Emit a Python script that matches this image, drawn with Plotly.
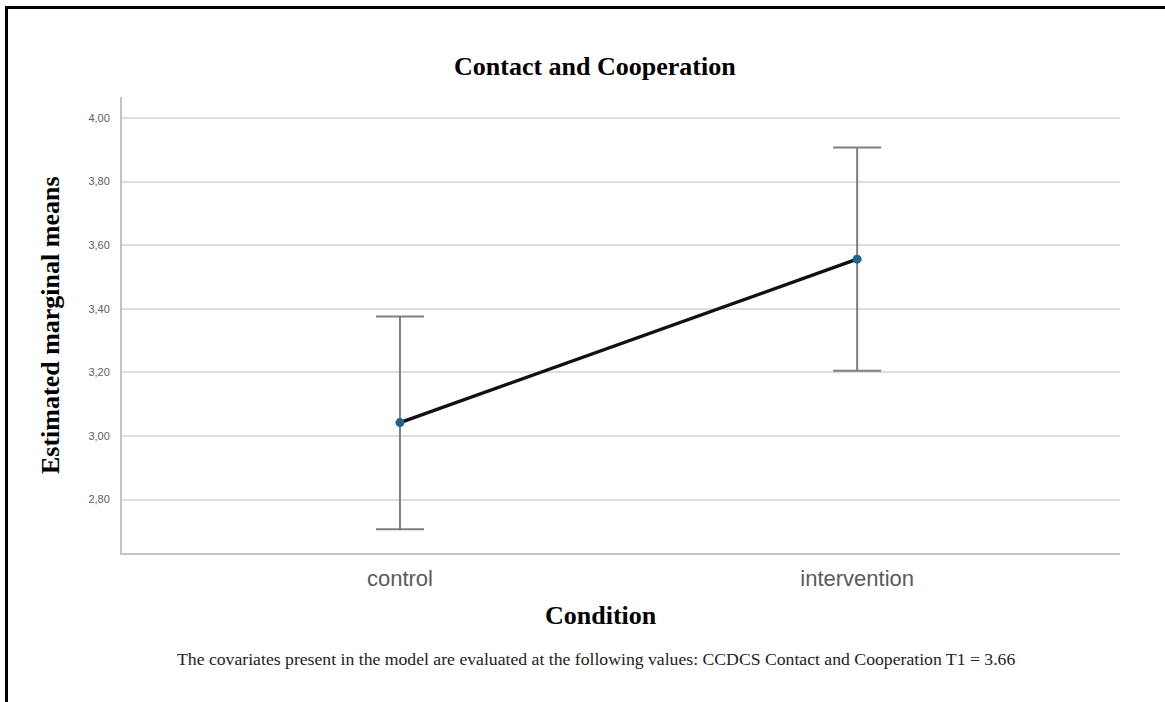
import plotly.graph_objects as go

categories = ["control", "intervention"]
means = [3.042, 3.556]
ci_upper = [3.376, 3.907]
ci_lower = [2.707, 3.205]
y_tickvals = [2.8, 3.0, 3.2, 3.4, 3.6, 3.8, 4.0]
y_ticktext = ["2,80", "3,00", "3,20", "3,40", "3,60", "3,80", "4,00"]

title_text = "Contact and Cooperation"
x_title = "Condition"
y_title = "Estimated marginal means"
footnote = ("The covariates present in the model are evaluated at the following values: "
            "CCDCS Contact and Cooperation T1 = 3.66")

err_plus = [u - m for u, m in zip(ci_upper, means)]
err_minus = [m - l for m, l in zip(means, ci_lower)]

W, H = 1165, 702
L, R, T, B = 122, 45, 97, 149
pw, ph = W - L - R, H - T - B

def px(x):
    return (x - L) / pw

def py(y):
    return (H - B - y) / ph

fig = go.Figure()
fig.add_trace(go.Scatter(
    x=categories, y=means,
    mode="lines+markers",
    line=dict(color="#111111", width=3.4),
    marker=dict(color="#1f6491", size=9),
    error_y=dict(type="data", symmetric=False, array=err_plus, arrayminus=err_minus,
                 color="#7f7f7f", thickness=2, width=24),
    showlegend=False,
    hoverinfo="skip",
))

serif = "Liberation Serif, Times New Roman, serif"
sans = "Liberation Sans, Arial, sans-serif"

fig.update_layout(
    width=W, height=H,
    margin=dict(l=L, r=R, t=T, b=B, autoexpand=False),
    paper_bgcolor="white", plot_bgcolor="white",
    xaxis=dict(type="category", range=[-0.608, 1.575], showgrid=False, zeroline=False,
               showline=True, linecolor="#c4c4c4", linewidth=2,
               tickfont=dict(family=sans, size=22, color="#5a5a5a"),
               ticks="outside", ticklen=5, tickcolor="rgba(0,0,0,0)"),
    yaxis=dict(range=[2.632, 4.066], tickvals=y_tickvals, ticktext=y_ticktext,
               showgrid=True, gridcolor="#dedede", gridwidth=2, zeroline=False,
               showline=True, linecolor="#c4c4c4", linewidth=2,
               tickfont=dict(family=sans, size=11, color="#606060"),
               ticks="outside", ticklen=8, tickcolor="rgba(0,0,0,0)"),
    annotations=[
        dict(text="<b>" + title_text + "</b>", xref="paper", yref="paper",
             x=px(595), y=py(66), showarrow=False, xanchor="center", yanchor="middle",
             font=dict(family=serif, size=26, color="black")),
        dict(text="<b>" + y_title + "</b>", xref="paper", yref="paper",
             x=px(50), y=py(325), showarrow=False, textangle=-90,
             xanchor="center", yanchor="middle",
             font=dict(family=serif, size=26, color="black")),
        dict(text="<b>" + x_title + "</b>", xref="paper", yref="paper",
             x=px(601), y=py(615), showarrow=False, xanchor="center", yanchor="middle",
             font=dict(family=serif, size=26, color="black")),
        dict(text=footnote, xref="paper", yref="paper",
             x=px(596), y=py(659), showarrow=False, xanchor="center", yanchor="middle",
             font=dict(family=serif, size=17.7, color="#222222")),
    ],
    shapes=[
        dict(type="line", xref="paper", yref="paper", x0=px(6.5), x1=px(1170),
             y0=py(7.5), y1=py(7.5), line=dict(color="black", width=3)),
        dict(type="line", xref="paper", yref="paper", x0=px(6.5), x1=px(6.5),
             y0=py(6), y1=py(710), line=dict(color="black", width=3)),
    ],
)

fig.write_html("out.html", config={"displayModeBar": False},
               post_script="document.body.style.margin='0';")
